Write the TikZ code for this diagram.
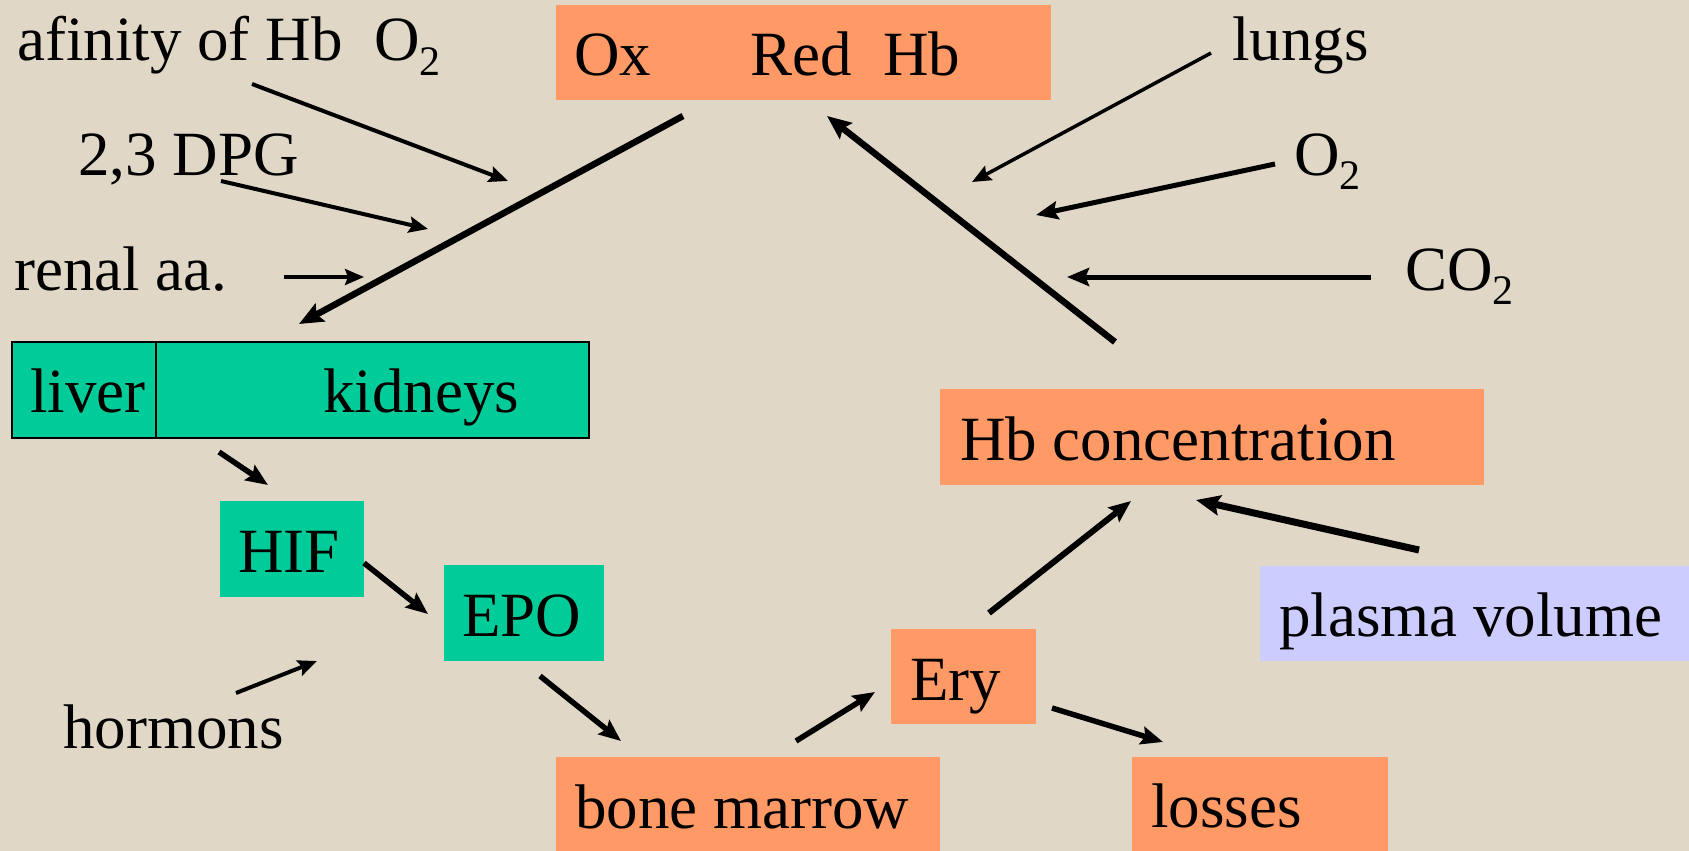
\documentclass[tikz,border=0pt]{standalone}
\usepackage{fontspec}
\setmainfont{Liberation Serif}
\usetikzlibrary{arrows.meta}
\definecolor{bg}{HTML}{E1D7C7}
\definecolor{orng}{HTML}{FF9966}
\definecolor{grn}{HTML}{00CC99}
\definecolor{lav}{HTML}{CCCCFF}
\newcommand{\subtwo}{\raisebox{-14pt}{\fontsize{42}{42}\selectfont 2}}
\tikzset{
  txt/.style={inner sep=0pt, anchor=base west, font=\fontsize{63}{63}\selectfont},
  obox/.style={fill=orng, draw=none, inner sep=0pt, anchor=north west},
  gbox/.style={fill=grn, draw=none, inner sep=0pt, anchor=north west},
  thinarr/.style={-{Stealth[length=19pt,width=16pt,inset=3pt]}, line width=4pt},
  medarr/.style={-{Stealth[length=22pt,width=18pt,inset=3.5pt]}, line width=5.5pt},
  bigarr/.style={-{Stealth[length=24pt,width=20pt,inset=4pt]}, line width=6.5pt}
}
\begin{document}
\begin{tikzpicture}[x=1pt,y=-1pt]
\useasboundingbox (0,0) rectangle (1689,851);
\fill[bg] (0,0) rectangle (1689,851);

% boxes
\node[obox, minimum width=495pt, minimum height=95pt] (oxbox) at (556,5) {};
\node[obox, minimum width=544pt, minimum height=96pt] (hbbox) at (940,389) {};
\node[fill=lav, inner sep=0pt, anchor=north west, minimum width=429pt, minimum height=95pt] (plbox) at (1260,566) {};
\node[obox, minimum width=145pt, minimum height=95pt] (erybox) at (891,629) {};
\node[obox, minimum width=384pt, minimum height=95pt] (bmbox) at (556,757) {};
\node[obox, minimum width=256pt, minimum height=95pt] (lsbox) at (1132,757) {};
\node[gbox, minimum width=144pt, minimum height=96pt] (hifbox) at (220,501) {};
\node[gbox, minimum width=160pt, minimum height=96pt] (epobox) at (444,565) {};
\node[gbox, draw=black, line width=2pt, minimum width=577pt, minimum height=96pt] (lkbox) at (11,341) {};
\draw[line width=2pt] (156,341) -- (156,437);

% texts
\node[txt] (t-aff) at (17,61) {afinity of Hb\ \ O\subtwo};
\node[txt] (t-dpg) at (78,175) {2,3 DPG};
\node[txt] (t-ren) at (14,290) {renal aa.};
\node[txt] (t-ox) at (574,76) {Ox};
\node[txt] (t-red) at (750,76) {Red\ \ Hb};
\node[txt] (t-lungs) at (1232,61) {lungs};
\node[txt] (t-o2) at (1294,175) {O\subtwo};
\node[txt] (t-co2) at (1405,290) {CO\subtwo};
\node[txt] (t-liver) at (30,412) {liver};
\node[txt] (t-kid) at (323,412) {kidneys};
\node[txt] (t-hif) at (238,572) {HIF};
\node[txt] (t-epo) at (462,636) {EPO};
\node[txt] (t-horm) at (63,748) {hormons};
\node[txt] (t-bm) at (575,828) {bone marrow};
\node[txt] (t-ery) at (910,700) {Ery};
\node[txt] (t-loss) at (1151,827) {losses};
\node[txt] (t-hb) at (960,460) {Hb concentration};
\node[txt] (t-pl) at (1279,636) {plasma volume};

% arrow end points
\coordinate (a1s) at (252,84);   \coordinate (a1e) at (508,181);
\coordinate (a2s) at (221,181);  \coordinate (a2e) at (428,229);
\coordinate (a3s) at (284,277);  \coordinate (a3e) at (364,277);
\coordinate (b1s) at (683,116);  \coordinate (b1e) at (299,324);
\coordinate (l1s) at (1211,53);  \coordinate (l1e) at (972,182);
\coordinate (o1s) at (1275,164); \coordinate (o1e) at (1036,215);
\coordinate (c1s) at (1371,277); \coordinate (c1e) at (1067,277);
\coordinate (b2s) at (1115,342); \coordinate (b2e) at (827,116);
\coordinate (h1s) at (219,452);  \coordinate (h1e) at (268,485);
\coordinate (h2s) at (364,563);  \coordinate (h2e) at (428,614);
\coordinate (h3s) at (236,693);  \coordinate (h3e) at (317,661);
\coordinate (e1s) at (540,676);  \coordinate (e1e) at (621,741);
\coordinate (m1s) at (796,741);  \coordinate (m1e) at (875,692);
\coordinate (r1s) at (1052,708); \coordinate (r1e) at (1163,742);
\coordinate (r2s) at (989,613);  \coordinate (r2e) at (1131,501);
\coordinate (p1s) at (1419,550); \coordinate (p1e) at (1196,500);

% arrows
\draw[thinarr] (a1s) -- (a1e);
\draw[thinarr] (a2s) -- (a2e);
\draw[thinarr, line width=3.5pt] (a3s) -- (a3e);
\draw[bigarr] (b1s) -- (b1e);
\draw[thinarr, line width=3.5pt] (l1s) -- (l1e);
\draw[medarr, line width=5pt] (o1s) -- (o1e);
\draw[medarr, line width=5pt] (c1s) -- (c1e);
\draw[bigarr] (b2s) -- (b2e);
\draw[medarr] (h1s) -- (h1e);
\draw[medarr] (h2s) -- (h2e);
\draw[thinarr] (h3s) -- (h3e);
\draw[medarr] (e1s) -- (e1e);
\draw[medarr] (m1s) -- (m1e);
\draw[medarr] (r1s) -- (r1e);
\draw[medarr, line width=6pt] (r2s) -- (r2e);
\draw[bigarr, line width=7pt] (p1s) -- (p1e);
\end{tikzpicture}
\end{document}
